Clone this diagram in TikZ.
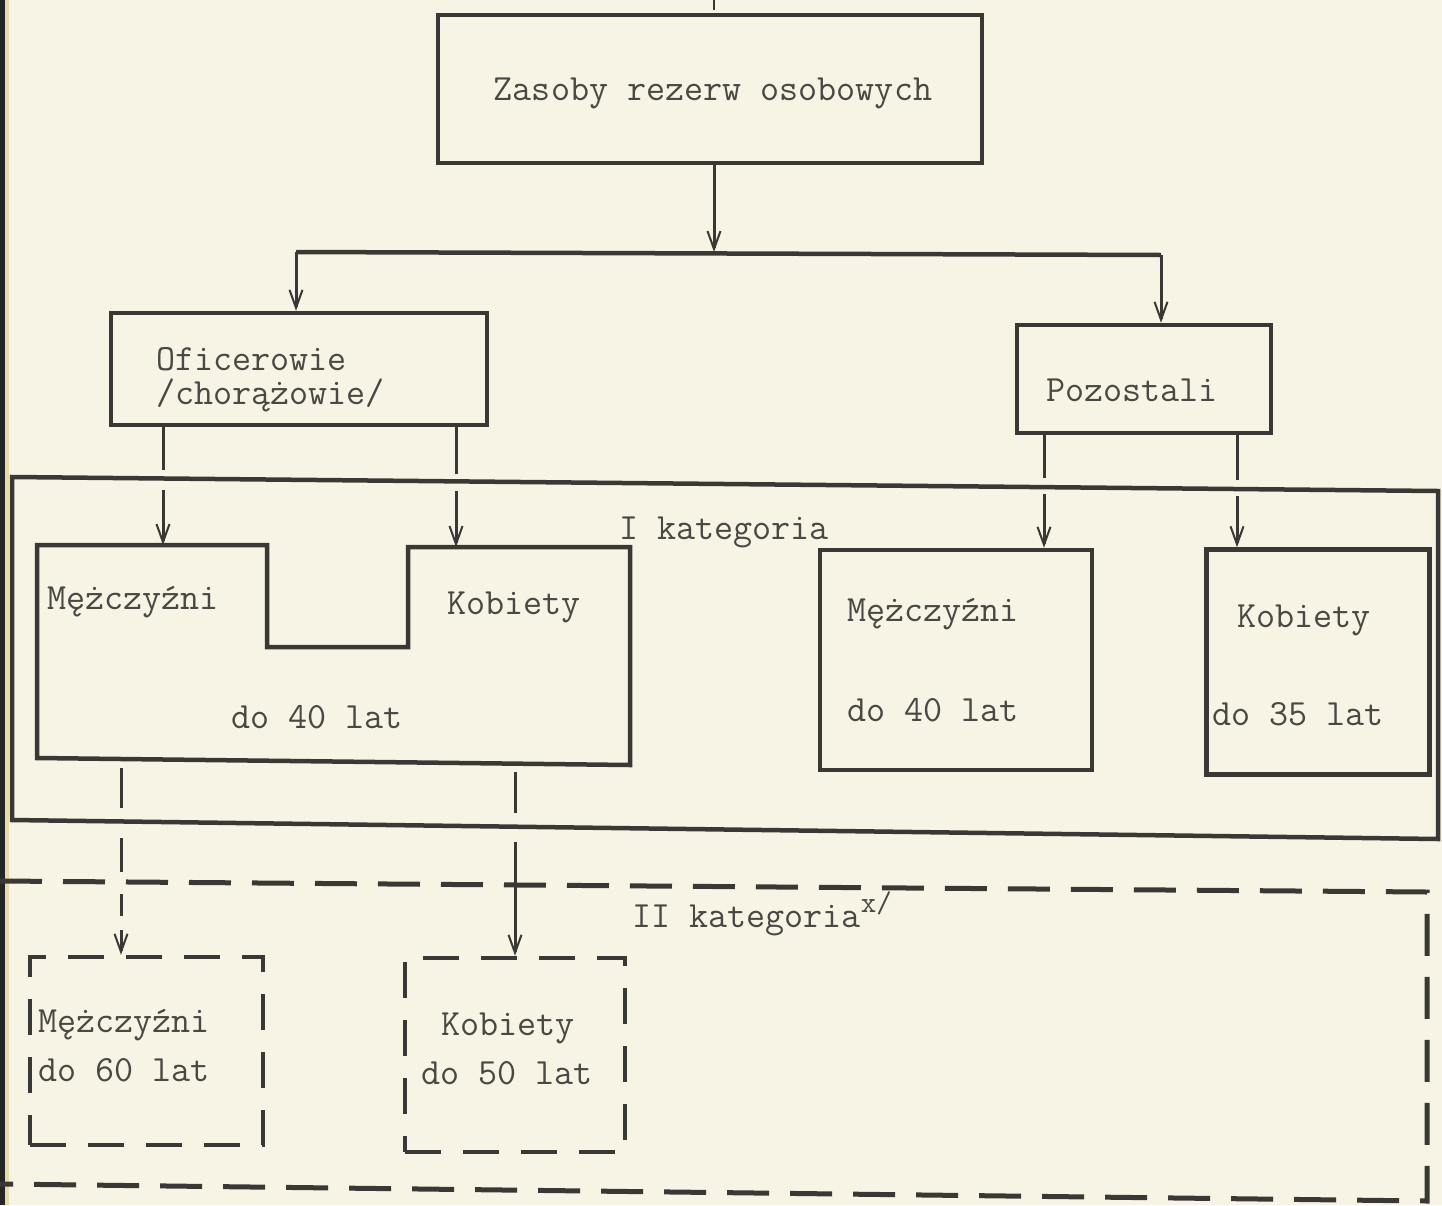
\documentclass[tikz,border=0pt]{standalone}
\usepackage{fontspec}
\usetikzlibrary{arrows.meta,calc}
\definecolor{paper}{RGB}{247,244,229}
\definecolor{ink}{RGB}{58,56,52}
\definecolor{txt}{RGB}{74,72,68}
\definecolor{band}{RGB}{232,220,172}
\begin{document}
\begin{tikzpicture}[x=1pt,y=-1pt,
  box/.style={draw=ink,line width=4.5pt,inner sep=0pt},
  dbox/.style={draw=ink,line width=4.5pt,inner sep=0pt,dash pattern=on 36pt off 22pt},
  lbl/.style={font=\fontsize{37}{40}\selectfont\ttfamily,text=txt,inner sep=0pt},
  conn/.style={draw=ink,line width=3pt},
  arr/.style={conn,-{Straight Barb[length=18pt,width=13pt,line width=2pt]}},
  catline/.style={draw=ink,line width=4.5pt},
  bigdash/.style={draw=ink,line width=5pt,dash pattern=on 42pt off 21pt}]
% page
\fill[paper] (0,0) rectangle (1442,1205);
\useasboundingbox (0,0) rectangle (1442,1205);
\fill[black!85] (0,0) rectangle (5,1205);
\fill[band] (5,0) rectangle (9,1205);

% top box
\node[box,minimum width=544pt,minimum height=148pt] (top) at (710,89) {};
\node[lbl] (toptxt) at (713,93) {Zasoby rezerw osobowych};
\coordinate (tick) at (714,0);
\draw[ink,line width=1.5pt] (tick) -- ($(tick)+(0,10)$);

% splitter
\coordinate (sp) at (714,252);
\coordinate (hl) at (296,252);
\coordinate (hr) at (1161,255);
\draw[arr] (top.south -| sp) -- (sp);
\draw[catline] (hl) -- (hr);

% level 2 boxes
\node[box,minimum width=376pt,minimum height=112pt] (ofc) at (299,369) {};
\node[lbl,align=left,anchor=west,font=\fontsize{37}{34}\selectfont\ttfamily] (ofctxt) at (156,380) {Oficerowie\\/chorążowie/};
\node[box,minimum width=254pt,minimum height=108pt] (poz) at (1144,379) {};
\node[lbl] (poztxt) at (1132,390) {Pozostali};
\draw[arr] (hl) -- (hl |- ofc.north);
\draw[arr] (hr) -- (hr |- poz.north);

% category I frame
\coordinate (c1tl) at (12,477);
\coordinate (c1tr) at (1438,491);
\coordinate (c1br) at (1438,839);
\coordinate (c1bl) at (12,820);
\draw[catline] (c1tr) -- (c1tl) -- (c1bl) -- (c1br) -- cycle;
\node[lbl] (kat1) at (724,532) {I kategoria};

% left combined box (officers)
\coordinate (L1) at (37,545);
\coordinate (L2) at (267,545);
\coordinate (L3) at (267,647);
\coordinate (L4) at (408,647);
\coordinate (L5) at (408,547);
\coordinate (L6) at (630,547);
\coordinate (L7) at (630,765);
\coordinate (L8) at (37,758);
\draw[box,line join=miter] (L1) -- (L2) -- (L3) -- (L4) -- (L5) -- (L6) -- (L7) -- (L8) -- cycle;
\node[lbl,anchor=west] (om) at (47,602) {Mężczyźni};
\node[lbl] (ok) at (514,607) {Kobiety};
\node[lbl] (o40) at (317,717) {do 40 lat};

% connectors officers -> cat I boxes
\coordinate (a1u) at (163,470);
\coordinate (a1d) at (163,490);
\coordinate (a1t) at (163,545);
\coordinate (a2u) at (456,474);
\coordinate (a2d) at (456,491);
\coordinate (a2t) at (456,547);
\draw[conn] (ofc.south -| a1u) -- (a1u);
\draw[arr] (a1d) -- (a1t);
\draw[conn] (ofc.south -| a2u) -- (a2u);
\draw[arr] (a2d) -- (a2t);

% right cat I boxes
\node[box,minimum width=272pt,minimum height=220pt] (m2) at (956,660) {};
\node[lbl,anchor=west] (m2a) at (847,614) {Mężczyźni};
\node[lbl,anchor=west] (m2b) at (847,710) {do 40 lat};
\node[box,minimum width=223pt,minimum height=225pt] (k2) at (1318,662) {};
\node[lbl] (k2a) at (1304,620) {Kobiety};
\node[lbl] (k2b) at (1298,714) {do 35 lat};

\coordinate (b1u) at (1044,478);
\coordinate (b1d) at (1044,494);
\coordinate (b2u) at (1237,480);
\coordinate (b2d) at (1237,496);
\draw[conn] (poz.south -| b1u) -- (b1u);
\draw[arr] (b1d) -- (b1d |- m2.north);
\draw[conn] (poz.south -| b2u) -- (b2u);
\draw[arr] (b2d) -- (b2d |- k2.north);

% category II frame
\coordinate (c2tl) at (0,881);
\coordinate (c2tr) at (1427,892);
\coordinate (c2br) at (1427,1201);
\coordinate (c2bl) at (0,1184);
\draw[bigdash] (c2tl) -- (c2tr) -- (c2br) -- (c2bl);
\node[lbl] (kat2) at (762,914) {II kategoria\raisebox{0.42em}{\fontsize{30}{30}\selectfont x/}};

% cat II boxes
\node[dbox,minimum width=233pt,minimum height=188pt] (m3) at (146.5,1051) {};
\node[lbl,anchor=west] (m3a) at (38,1025) {Mężczyźni};
\node[lbl,anchor=west] (m3b) at (38,1070) {do 60 lat};
\node[dbox,minimum width=220pt,minimum height=194pt] (k3) at (515,1055) {};
\node[lbl] (k3a) at (508,1028) {Kobiety};
\node[lbl] (k3b) at (507,1073) {do 50 lat};

% connectors cat I -> cat II
\coordinate (d1a) at (121,768);
\coordinate (d1b) at (121,808);
\coordinate (d1c) at (121,838);
\coordinate (d1d) at (121,872);
\coordinate (d1e) at (121,894);
\coordinate (d2a) at (515,772);
\coordinate (d2b) at (515,813);
\coordinate (d2c) at (515,842);
\draw[conn] (d1a) -- (d1b);
\draw[conn] (d1c) -- (d1d);
\draw[arr,dash pattern=on 22pt off 14pt] (d1e) -- (d1e |- m3.north);
\draw[conn] (d2a) -- (d2b);
\draw[arr] (d2c) -- (d2c |- k3.north);
\end{tikzpicture}
\end{document}
